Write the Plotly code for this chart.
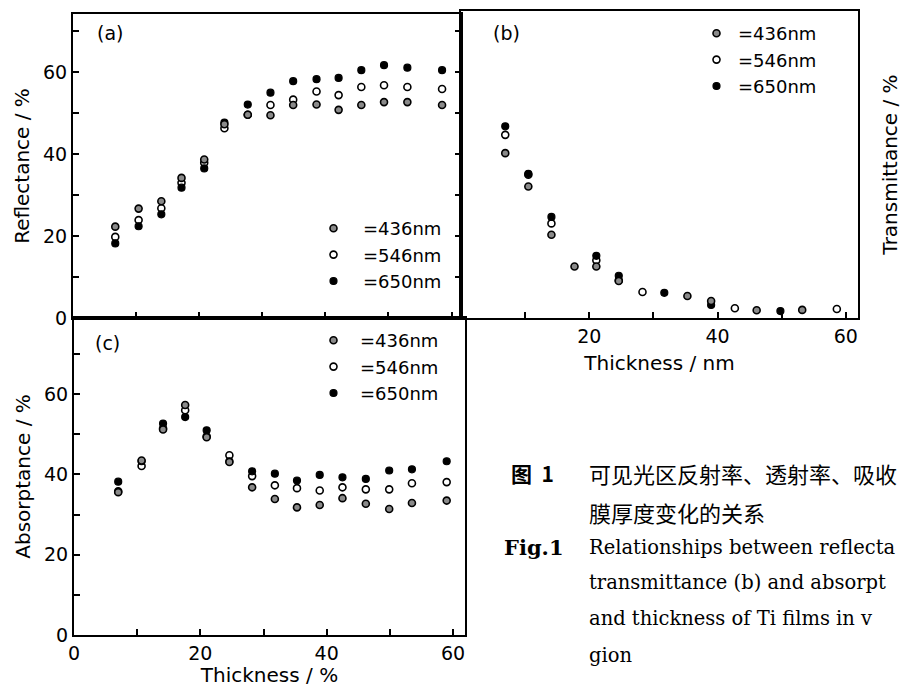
import plotly.graph_objects as go

W, H = 904, 687

# ---------------- data ----------------
wavelengths = ["=436nm", "=546nm", "=650nm"]

# (a) Reflectance vs thickness
thickness_a = [6.7, 10.4, 14.0, 17.2, 20.8, 24.0, 27.7, 31.3, 34.9, 38.6, 42.1, 45.7, 49.3, 53.0, 58.5]
refl_436 = [22.3, 26.7, 28.5, 34.2, 38.7, 47.3, 49.6, 49.5, 52.0, 52.1, 50.8, 52.0, 52.7, 52.7, 52.0]
refl_546 = [19.8, 23.9, 26.8, 33.0, 37.9, 46.3, 49.6, 52.0, 53.3, 55.3, 54.4, 56.4, 56.8, 56.4, 55.9]
refl_650 = [18.2, 22.4, 25.3, 31.8, 36.5, 47.7, 52.1, 55.0, 57.8, 58.3, 58.6, 60.5, 61.7, 61.1, 60.5]

# (b) Transmittance vs thickness
thickness_b = [6.9, 10.5, 14.1, 17.7, 21.1, 24.6, 28.3, 31.7, 35.3, 39.0, 42.7, 46.1, 49.8, 53.2, 58.6]
trans_436 = [40.6, 32.4, 20.5, 12.7, 12.7, 9.1, None, None, 5.4, 4.2, None, 1.9, None, 2.0, None]
trans_546 = [45.1, 35.3, 23.3, None, 14.2, 9.3, 6.4, None, None, None, 2.4, None, None, None, 2.2]
trans_650 = [47.2, 35.5, 24.9, None, 15.3, 10.4, None, 6.2, None, 3.2, None, None, 1.7, None, None]

# (c) Absorptance vs thickness
thickness_c = [7.0, 10.7, 14.1, 17.6, 21.0, 24.6, 28.2, 31.8, 35.3, 38.9, 42.5, 46.2, 49.9, 53.5, 59.0]
abs_436 = [35.6, 43.5, 51.2, 57.3, 49.3, 43.1, 36.8, 33.9, 31.8, 32.4, 34.1, 32.7, 31.4, 32.9, 33.5]
abs_546 = [35.8, 42.1, 51.5, 56.0, 49.5, 44.8, 39.6, 37.3, 36.6, 36.0, 36.8, 36.3, 36.3, 37.8, 38.1]
abs_650 = [38.2, 43.3, 52.7, 54.3, 51.0, 43.3, 40.8, 40.2, 38.5, 39.9, 39.3, 38.9, 41.0, 41.3, 43.3]

y_ticks = [0, 10, 20, 30, 40, 50, 60, 70]
y_ticktext = ["0", "", "20", "", "40", "", "60", ""]
x_ticks = [10, 20, 30, 40, 50, 60]
x_ticktext_b = ["", "20", "", "40", "", "60"]
x_ticks_c = [0, 10, 20, 30, 40, 50, 60]
x_ticktext_c = ["0", "", "20", "", "40", "", "60"]

# caption text as visible in the (right-cropped) reference
caption_lines = [
    "可见光区反射率、透射率、吸收",
    "膜厚度变化的关系",
    "Relationships between reflecta",
    "transmittance (b) and absorpt",
    "and thickness of Ti films in v",
    "gion",
]

# ---------------- helpers (pixel -> paper) ----------------
def fx(px):
    return px / W

def fy(py):
    return 1 - py / H

FONT = "DejaVu Sans"
styles = {
    "=436nm": dict(symbol="circle", size=7, color="#8a8a8a", line=dict(color="black", width=1.6)),
    "=546nm": dict(symbol="circle", size=7, color="white", line=dict(color="black", width=1.6)),
    "=650nm": dict(symbol="circle", size=7, color="black", line=dict(color="black", width=1.2)),
}
rank = {"=436nm": 1, "=546nm": 2, "=650nm": 3}

fig = go.Figure()

panels = [
    ("x", "y", "legend", thickness_a, {"=436nm": refl_436, "=546nm": refl_546, "=650nm": refl_650}),
    ("x2", "y2", "legend2", thickness_b, {"=436nm": trans_436, "=546nm": trans_546, "=650nm": trans_650}),
    ("x3", "y3", "legend3", thickness_c, {"=436nm": abs_436, "=546nm": abs_546, "=650nm": abs_650}),
]
# draw order: 546 underneath, then 650, then 436 on top
for xa, ya, lg, xs, series in panels:
    for name in ["=546nm", "=650nm", "=436nm"]:
        fig.add_trace(go.Scatter(
            x=xs, y=series[name], mode="markers", name=name,
            marker=styles[name], xaxis=xa, yaxis=ya, legend=lg,
            legendrank=rank[name], showlegend=True, cliponaxis=False,
        ))

axis_common = dict(
    showline=True, linecolor="black", linewidth=2, showgrid=False, zeroline=False,
    ticks="inside", ticklen=6, tickwidth=2, tickcolor="black", automargin=False,
    tickfont=dict(family=FONT, size=19, color="black"),
)

# panel domains in pixels
a_x = (73, 461); a_y = (14, 318)
b_x = (461, 858); b_y = (11, 318)
c_x = (74, 465); c_y = (318, 635)

fig.update_layout(
    width=W, height=H,
    margin=dict(l=0, r=0, t=0, b=0, pad=0),
    paper_bgcolor="white", plot_bgcolor="white",
    font=dict(family=FONT, size=19, color="black"),
    xaxis=dict(axis_common, domain=[fx(a_x[0]), fx(a_x[1])], range=[0, 61.5],
               tickvals=x_ticks, showticklabels=False, mirror=True, anchor="y"),
    yaxis=dict(axis_common, domain=[fy(a_y[1]), fy(a_y[0])], range=[0, 74.2],
               tickvals=y_ticks, ticktext=y_ticktext, mirror="ticks", anchor="x",
               title=dict(text="Reflectance / %", font=dict(size=20), standoff=8)),
    xaxis2=dict(axis_common, domain=[fx(b_x[0]), fx(b_x[1])], range=[0, 61.9],
                tickvals=x_ticks, ticktext=x_ticktext_b, mirror=True, anchor="y2",
                title=dict(text="Thickness / nm", font=dict(size=20), standoff=10)),
    yaxis2=dict(axis_common, domain=[fy(b_y[1]), fy(b_y[0])], range=[0, 75.6],
                side="right", ticks="", showticklabels=False, mirror=True, anchor="x2",
                title=dict(text="Transmittance / %", font=dict(size=20), standoff=24)),
    xaxis3=dict(axis_common, domain=[fx(c_x[0]), fx(c_x[1])], range=[0, 61.9],
                tickvals=x_ticks_c, ticktext=x_ticktext_c, mirror=True, anchor="y3",
                title=dict(text="Thickness / %", font=dict(size=20), standoff=8)),
    yaxis3=dict(axis_common, domain=[fy(c_y[1]), fy(c_y[0])], range=[0, 79],
                tickvals=y_ticks, ticktext=y_ticktext, mirror=True, anchor="x3",
                title=dict(text="Absorptance / %", font=dict(size=20), standoff=8)),
)

legend_common = dict(xanchor="left", yanchor="top", bgcolor="rgba(0,0,0,0)",
                     font=dict(family=FONT, size=18, color="black"),
                     traceorder="normal", tracegroupgap=0)
fig.update_layout(
    legend=dict(legend_common, itemwidth=49, x=fx(304), y=fy(210)),
    legend2=dict(legend_common, itemwidth=33, x=fx(695), y=fy(15)),
    legend3=dict(legend_common, itemwidth=43, x=fx(307), y=fy(322)),
)

ann = []
for txt, px, py in [("(a)", 110, 33), ("(b)", 507, 33), ("(c)", 107, 343)]:
    ann.append(dict(text=txt, x=fx(px), y=fy(py), xref="paper", yref="paper",
                    showarrow=False, xanchor="center", yanchor="middle",
                    font=dict(family=FONT, size=19, color="black")))

CJK = "Noto Sans CJK SC"
SERIF = "DejaVu Serif"
ann.append(dict(text="<b>图  1</b>", x=fx(509), y=fy(473), xref="paper", yref="paper",
                showarrow=False, xanchor="left", yanchor="middle",
                font=dict(family=CJK, size=21, color="black")))
ann.append(dict(text="<b>Fig.1</b>", x=fx(502), y=fy(547), xref="paper", yref="paper",
                showarrow=False, xanchor="left", yanchor="middle",
                font=dict(family=SERIF, size=21, color="black")))
line_y = [473, 512, 547, 582, 618, 655]
for i, (txt, py) in enumerate(zip(caption_lines, line_y)):
    fam = CJK if i < 2 else SERIF
    size = 22 if i < 2 else 19.5
    ann.append(dict(text=txt, x=fx(587), y=fy(py), xref="paper", yref="paper",
                    showarrow=False, xanchor="left", yanchor="middle",
                    font=dict(family=fam, size=size, color="black")))

fig.update_layout(annotations=ann)
fig.write_html("out.html", config={"displayModeBar": False},
               post_script="document.body.style.margin='0px';")
